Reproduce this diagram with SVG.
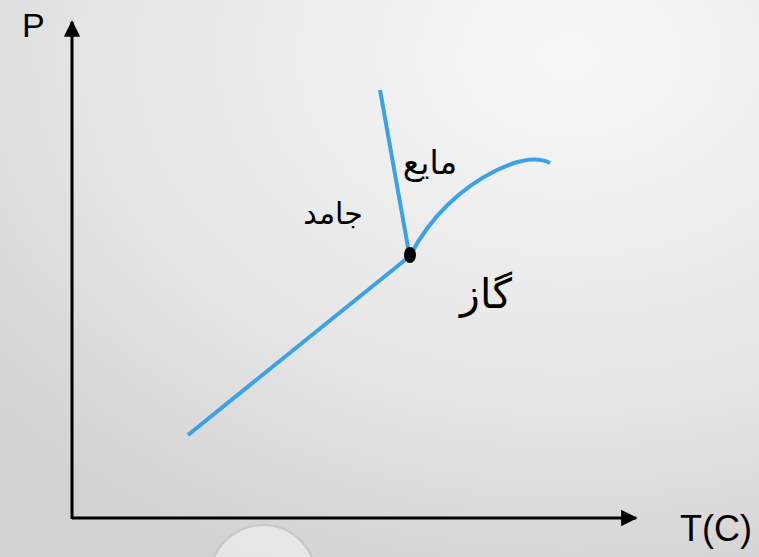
<svg xmlns="http://www.w3.org/2000/svg" width="759" height="557" viewBox="0 0 759 557">
<defs>
<radialGradient id="bg" cx="0.75" cy="0.1" r="1.0">
<stop offset="0" stop-color="#f7f7f7"/>
<stop offset="0.6" stop-color="#e6e6e6"/>
<stop offset="1" stop-color="#d2d2d2"/>
</radialGradient>
<marker id="arr" viewBox="0 0 10 10" refX="9" refY="5" markerWidth="5.5" markerHeight="5.5" markerUnits="strokeWidth" orient="auto">
<path d="M0,0 L10,5 L0,10 z" fill="#000"/>
</marker>
</defs>
<style>
.axis{stroke:#000;stroke-width:3;fill:none}
.curve{stroke:#3aa2ea;stroke-width:4;fill:none;stroke-linecap:butt}
.lat{font-family:"Liberation Sans","DejaVu Sans",sans-serif;fill:#000}
.fa{font-family:"DejaVu Sans","Noto Sans",sans-serif;fill:#000}
</style>
<rect width="759" height="557" fill="url(#bg)"/>
<circle cx="263" cy="578" r="53" fill="#ececec" stroke="#c4c4c4" stroke-width="2" opacity="0.8"/>
<g id="connectors">
<line class="axis" x1="72" y1="519" x2="72" y2="22" marker-end="url(#arr)"/>
<line class="axis" x1="72" y1="518" x2="636" y2="518" marker-end="url(#arr)"/>
<line class="curve" x1="188" y1="435" x2="410" y2="256"/>
<line class="curve" x1="380" y1="90" x2="409" y2="253"/>
<path class="curve" d="M411,254 C430,218 460,188 497,170 C520,159 538,157 550,163"/>
</g>
<g id="triple"><ellipse cx="410" cy="255" rx="6" ry="8" fill="#000"/></g>
<g id="labelP"><text class="lat" x="22" y="37" font-size="34">P</text></g>
<g id="labelT"><text class="lat" x="680" y="541" font-size="36">T(C)</text></g>
<g id="liquid"><text class="fa" x="430" y="174" font-size="33" text-anchor="middle">مایع</text></g>
<g id="solid"><text class="fa" x="333" y="224" font-size="30" text-anchor="middle">جامد</text></g>
<g id="gas"><text class="fa" x="486" y="308" font-size="41" text-anchor="middle">گاز</text></g>
</svg>
